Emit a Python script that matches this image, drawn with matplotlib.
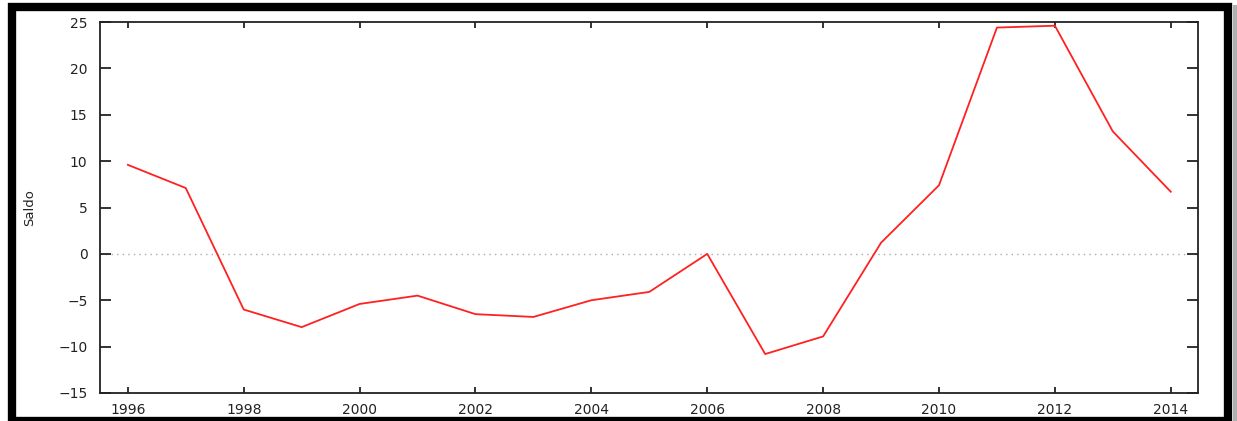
import matplotlib
matplotlib.use('Agg')
import matplotlib.pyplot as plt
from matplotlib.patches import Rectangle

years = [1996, 1997, 1998, 1999, 2000, 2001, 2002, 2003, 2004, 2005,
         2006, 2007, 2008, 2009, 2010, 2011, 2012, 2013, 2014]
saldo = [9.6, 7.1, -6.0, -7.9, -5.4, -4.5, -6.5, -6.8, -5.0, -4.1,
         0.0, -10.8, -8.9, 1.2, 7.4, 24.4, 24.6, 13.2, 6.7]
xticks = list(range(1996, 2015, 2))
yticks = list(range(-15, 26, 5))

W, H = 1237, 421
fig = plt.figure(figsize=(W / 100, H / 100), dpi=100)
ax = fig.add_axes([100 / W, 1 - 393 / H, 1098 / W, 371 / H])

ax.axhline(0, color='#aaaaaa', lw=1, ls=(0, (1, 3)), zorder=1)
ax.plot(years, saldo, color='#ff2020', lw=1.3, zorder=3)

ax.set_xlim(1995.52, 2014.47)
ax.set_ylim(-15, 25)
ax.set_xticks(xticks)
ax.set_yticks(yticks)
ax.tick_params(axis='x', direction='in', length=4, width=1.3, top=True,
               pad=7, labelsize=10, colors='#222222')
ax.tick_params(axis='y', direction='in', length=8, width=1.3, right=True,
               pad=9, labelsize=10, colors='#222222')
for s in ax.spines.values():
    s.set_linewidth(1.3)
    s.set_color('#222222')

fig.text(30 / W, 1 - 208 / H, 'Saldo', rotation=90, ha='center', va='center',
         fontsize=9.5, color='#222222')

# grey shadow on the right, then the black frame around the picture
fig.patches.append(Rectangle((1233 / W, 0), 4 / W, 1 - 5 / H,
                             transform=fig.transFigure, fill=True,
                             facecolor='#b0b0b0', edgecolor='none', zorder=0))
fig.patches.append(Rectangle((12 / W, 0), 1216 / W, 1 - 7 / H,
                             transform=fig.transFigure, fill=False,
                             edgecolor='black', lw=6, zorder=1))

fig.savefig('out.png', dpi=100)
